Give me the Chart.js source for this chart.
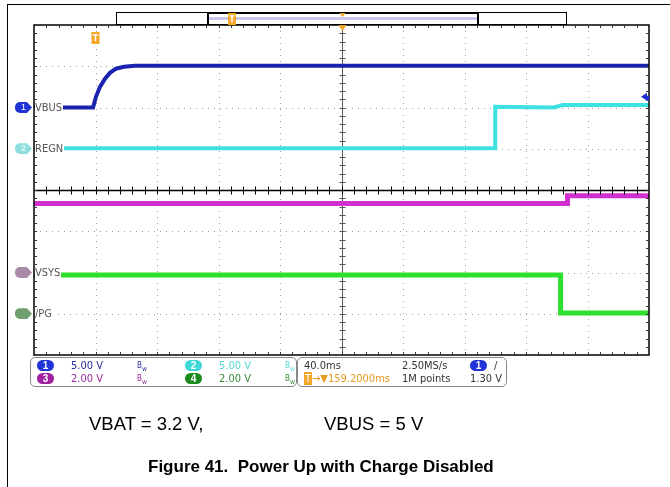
<!DOCTYPE html>
<html>
<head>
<meta charset="utf-8">
<script src="https://cdn.jsdelivr.net/npm/chart.js@4"></script>
<style>
  body { margin: 0; background: #fff; }
  #wrap { position: relative; width: 670px; height: 487px; overflow: hidden; font-family: "Liberation Sans", Arial, sans-serif; }
  #scope { position: absolute; left: 0; top: 0; }
  .frame-top { position: absolute; left: 7px; top: 4px; width: 663px; height: 0; border-top: 1.5px solid #000; }
  .frame-left { position: absolute; left: 7px; top: 4px; width: 0; height: 483px; border-left: 1.5px solid #000; }
  .chlabel { position: absolute; left: 35px; height: 12px; line-height: 12px; font-family: "Liberation Sans Narrow", "DejaVu Sans Condensed", sans-serif; font-size: 11px; color: #555; background: #fff; padding-right: 1px; }
  .badge { position: absolute; left: 15px; width: 14px; height: 11px; border-radius: 6px 2px 2px 6px; color: #fff; font-size: 9px; line-height: 11px; text-align: center; font-family: "Liberation Sans Narrow", sans-serif; }
  .panel { position: absolute; top: 357px; height: 28px; border: 1px solid #888; border-radius: 5px; background: #fff; }
  .pt { position: absolute; font-family: "Liberation Sans Narrow", "DejaVu Sans Condensed", sans-serif; font-size: 11px; line-height: 12px; white-space: nowrap; }
  .pb { position: absolute; width: 17px; height: 11px; border-radius: 6px; color: #fff; font-size: 10px; line-height: 11px; text-align: center; font-family: "Liberation Sans", sans-serif; font-weight: bold; }
  .cap { position: absolute; font-size: 18.5px; color: #000; white-space: nowrap; }
  .fig { position: absolute; font-size: 17px; font-weight: bold; color: #000; white-space: nowrap; }
</style>
</head>
<body>
<div id="wrap">
  <canvas id="scope" width="670" height="487"></canvas>
  <div class="frame-top"></div>
  <div class="frame-left"></div>
  <div id="labels"></div>
  <div class="panel" style="left:30px;width:265px;" id="chanPanel"></div>
  <div class="panel" style="left:297px;width:208px;" id="timePanel"></div>
  <div class="cap" style="left:89px;top:413px;">VBAT = 3.2 V,</div>
  <div class="cap" style="left:324px;top:413px;">VBUS = 5 V</div>
  <div class="fig" style="left:148px;top:457px;">Figure 41.&nbsp; Power Up with Charge Disabled</div>
</div>
<script>
// time base: 40 ms/div, 10 divisions
const timeDiv = 40;
const timeMax = 400;

// channel names and volts/div
const chNames = ['VBUS', 'REGN', 'VSYS', '/PG'];
const chScale = [5, 5, 2, 2];
const chGroundDiv = [6, 5, 2, 1]; // divisions above bottom edge
const chColors = ['#1a22b0', '#3ee0e0', '#d22fd0', '#2ee02e'];

// VBUS (ch1)
const vbusTime = [0, 38.4, 40.3, 42.9, 46.2, 49.4, 53.3, 58.5, 65.7, 400];
const vbusVolts = [0, 0, 1.3, 2.5, 3.5, 4.2, 4.7, 4.94, 5.06, 5.06];

// REGN (ch2)
const regnTime = [0, 300, 300, 338, 344, 400];
const regnVolts = [0.05, 0.05, 5.1, 5.0, 5.3, 5.3];

// VSYS (ch3)
const vsysTime = [0, 347, 347, 400];
const vsysVolts = [3.35, 3.35, 3.72, 3.72];

// /PG (ch4)
const pgTime = [0, 342.5, 342.5, 400];
const pgVolts = [1.88, 1.88, 0.04, 0.04];

const triggerLevel = 1.30;
const triggerMarkTime = 40; // orange T marker

const toPoints = (t, v) => t.map((x, i) => ({ x: x, y: v[i] }));

// dotted scope graticule + center axes
const graticule = {
  id: 'graticule',
  beforeDatasetsDraw(chart) {
    const { ctx, chartArea: a } = chart;
    const dx = (a.right - a.left) / 10;
    const dy = (a.bottom - a.top) / 8;
    ctx.save();
    ctx.strokeStyle = '#a0a0a0';
    ctx.lineWidth = 1;
    ctx.setLineDash([1, 5]);
    for (let i = 1; i < 10; i++) {
      if (i === 5) continue;
      const x = Math.round(a.left + i * dx) + 0.5;
      ctx.beginPath(); ctx.moveTo(x, a.top); ctx.lineTo(x, a.bottom); ctx.stroke();
    }
    for (let j = 1; j < 8; j++) {
      if (j === 4) continue;
      const y = Math.round(a.top + j * dy) + 0.5;
      ctx.beginPath(); ctx.moveTo(a.left, y); ctx.lineTo(a.right, y); ctx.stroke();
    }
    ctx.setLineDash([]);
    // center vertical
    const cx = Math.round(a.left + 5 * dx) + 0.5;
    ctx.strokeStyle = '#555';
    ctx.beginPath(); ctx.moveTo(cx, a.top); ctx.lineTo(cx, a.bottom); ctx.stroke();
    for (let k = 1; k < 40; k++) {
      const y = Math.round(a.top + k * dy / 5) + 0.5;
      ctx.beginPath(); ctx.moveTo(cx - 3, y); ctx.lineTo(cx + 3, y); ctx.stroke();
    }
    ctx.restore();
  },
  afterDatasetsDraw(chart) {
    const { ctx, chartArea: a, scales } = chart;
    const dx = (a.right - a.left) / 10;
    const dy = (a.bottom - a.top) / 8;
    ctx.save();
    // center horizontal (pane divider)
    const cy = Math.round(a.top + 4 * dy) + 0.5;
    ctx.strokeStyle = '#000';
    ctx.lineWidth = 1.5;
    ctx.beginPath(); ctx.moveTo(a.left, cy); ctx.lineTo(a.right, cy); ctx.stroke();
    ctx.lineWidth = 1;
    for (let k = 1; k < 50; k++) {
      const x = Math.round(a.left + k * dx / 5) + 0.5;
      ctx.beginPath(); ctx.moveTo(x, cy - 4); ctx.lineTo(x, cy + 4); ctx.stroke();
    }
    // frame with inward ticks
    ctx.lineWidth = 1.5;
    ctx.strokeRect(a.left, a.top, a.right - a.left, a.bottom - a.top);
    ctx.lineWidth = 1;
    ctx.strokeStyle = '#333';
    for (let k = 1; k < 50; k++) {
      const x = Math.round(a.left + k * dx / 5) + 0.5;
      ctx.beginPath(); ctx.moveTo(x, a.top); ctx.lineTo(x, a.top + 3); ctx.stroke();
      ctx.beginPath(); ctx.moveTo(x, a.bottom); ctx.lineTo(x, a.bottom - 3); ctx.stroke();
    }
    for (let k = 1; k < 40; k++) {
      const y = Math.round(a.top + k * dy / 5) + 0.5;
      ctx.beginPath(); ctx.moveTo(a.left, y); ctx.lineTo(a.left + 3, y); ctx.stroke();
      ctx.beginPath(); ctx.moveTo(a.right, y); ctx.lineTo(a.right - 3, y); ctx.stroke();
    }
    // record length indicator above the graticule
    ctx.strokeStyle = '#000';
    ctx.lineWidth = 1;
    ctx.strokeRect(116.5, 12.5, 450, 12);
    ctx.fillStyle = '#c9c9ee';
    ctx.fillRect(208, 17, 270, 3);
    ctx.lineWidth = 2;
    ctx.beginPath();
    ctx.moveTo(208, 25); ctx.lineTo(208, 13); ctx.lineTo(478, 13); ctx.lineTo(478, 25);
    ctx.stroke();
    // trigger position markers (orange)
    const cx = Math.round(a.left + 5 * dx) + 0.5;
    ctx.fillStyle = '#f0a020';
    ctx.beginPath(); ctx.moveTo(cx - 3, 13); ctx.lineTo(cx + 3, 13); ctx.lineTo(cx, 17); ctx.closePath(); ctx.fill();
    ctx.beginPath(); ctx.moveTo(cx - 4, a.top); ctx.lineTo(cx + 4, a.top); ctx.lineTo(cx, a.top + 6); ctx.closePath(); ctx.fill();
    const drawT = (x, y) => {
      ctx.fillStyle = '#f2a72a';
      ctx.fillRect(x - 4, y - 6, 8, 12);
      ctx.fillStyle = '#fff';
      ctx.fillRect(x - 2.5, y - 4, 5, 1.5);
      ctx.fillRect(x - 0.75, y - 4, 1.5, 7);
    };
    drawT(scales.x.getPixelForValue(triggerMarkTime), a.top + 13);
    drawT(232, 19);
    // trigger level arrow on ch1 at right edge
    const ty = scales.y1.getPixelForValue(triggerLevel);
    ctx.fillStyle = '#2030d0';
    ctx.beginPath(); ctx.moveTo(a.right - 8, ty); ctx.lineTo(a.right - 2, ty - 4); ctx.lineTo(a.right - 2, ty + 4); ctx.closePath(); ctx.fill();
    ctx.fillRect(a.right - 3, ty - 1, 3, 5);
    ctx.restore();
  }
};

const yAxis = (ch) => ({
  type: 'linear',
  display: false,
  min: -chGroundDiv[ch] * chScale[ch],
  max: (8 - chGroundDiv[ch]) * chScale[ch]
});

const chart = new Chart(document.getElementById('scope'), {
  type: 'line',
  data: {
    datasets: [
      { label: chNames[0], data: toPoints(vbusTime, vbusVolts), yAxisID: 'y1', borderColor: chColors[0], borderWidth: 4 },
      { label: chNames[1], data: toPoints(regnTime, regnVolts), yAxisID: 'y2', borderColor: chColors[1], borderWidth: 4 },
      { label: chNames[2], data: toPoints(vsysTime, vsysVolts), yAxisID: 'y3', borderColor: chColors[2], borderWidth: 5 },
      { label: chNames[3], data: toPoints(pgTime, pgVolts), yAxisID: 'y4', borderColor: chColors[3], borderWidth: 5 }
    ]
  },
  options: {
    responsive: false,
    animation: false,
    devicePixelRatio: 1,
    layout: { padding: { left: 34, top: 25, right: 21, bottom: 132 } },
    elements: { point: { radius: 0 }, line: { tension: 0, borderCapStyle: 'butt' } },
    scales: {
      x: { type: 'linear', display: false, min: 0, max: timeMax, ticks: { stepSize: timeDiv } },
      y1: yAxis(0), y2: yAxis(1), y3: yAxis(2), y4: yAxis(3)
    },
    plugins: { legend: { display: false }, tooltip: { enabled: false } }
  },
  plugins: [graticule]
});

// channel ground labels placed on the library's scales
const badgeColors = ['#1f33d6', '#8fdede', '#a98aa9', '#6f9f6f'];
const badgeText = ['1', '2', '', ''];
const labels = document.getElementById('labels');
chNames.forEach((name, i) => {
  const y = chart.scales['y' + (i + 1)].getPixelForValue(0);
  const b = document.createElement('div');
  b.className = 'badge';
  b.style.top = (y - 5.5) + 'px';
  b.style.background = badgeColors[i];
  b.style.clipPath = 'polygon(0 0, 70% 0, 100% 50%, 70% 100%, 0 100%)';
  b.style.width = '17px';
  b.style.borderRadius = '5px 0 0 5px';
  b.textContent = badgeText[i];
  labels.appendChild(b);
  const t = document.createElement('div');
  t.className = 'chlabel';
  t.style.top = (y - 6) + 'px';
  t.textContent = name;
  labels.appendChild(t);
});

// info panel texts
const panelBadges = ['1', '2', '3', '4'];
const panelBadgeColors = ['#1f33d6', '#3ed8d8', '#a020a0', '#1c8a1c'];
const panelScales = ['5.00 V', '5.00 V', '2.00 V', '2.00 V'];
const panelTextColors = ['#2a2aa0', '#5ad6d6', '#9a2a9a', '#3a8a3a'];
const chanPanel = document.getElementById('chanPanel');
panelBadges.forEach((n, i) => {
  const col = i % 2, row = Math.floor(i / 2);
  const left = col * 148 + 6, top = row * 13 + 2;
  chanPanel.insertAdjacentHTML('beforeend',
    `<div class="pb" style="left:${left}px;top:${top}px;background:${panelBadgeColors[i]}">${n}</div>` +
    `<div class="pt" style="left:${left + 34}px;top:${top}px;color:${panelTextColors[i]}">${panelScales[i]}</div>` +
    `<div class="pt" style="left:${left + 100}px;top:${top}px;color:${panelTextColors[i]};font-size:8px">B<sub>w</sub></div>`);
});

const timeTexts = [['40.0ms', '2.50MS/s'], ['159.2000ms', '1M points']];
const timePanel = document.getElementById('timePanel');
timePanel.insertAdjacentHTML('beforeend',
  `<div class="pt" style="left:6px;top:2px;color:#333">${timeTexts[0][0]}</div>` +
  `<div class="pt" style="left:104px;top:2px;color:#333">${timeTexts[0][1]}</div>` +
  `<div class="pb" style="left:172px;top:2px;background:#1f33d6">1</div>` +
  `<div class="pt" style="left:196px;top:2px;color:#333">/</div>` +
  `<div class="pt" style="left:6px;top:15px;color:#e89a20"><span style="background:#f2a72a;color:#fff;padding:0 1px">T</span>&#x2192;&#x25BC;${timeTexts[1][0]}</div>` +
  `<div class="pt" style="left:104px;top:15px;color:#333">${timeTexts[1][1]}</div>` +
  `<div class="pt" style="left:172px;top:15px;color:#333">${triggerLevel.toFixed(2)} V</div>`);
</script>
</body>
</html>
